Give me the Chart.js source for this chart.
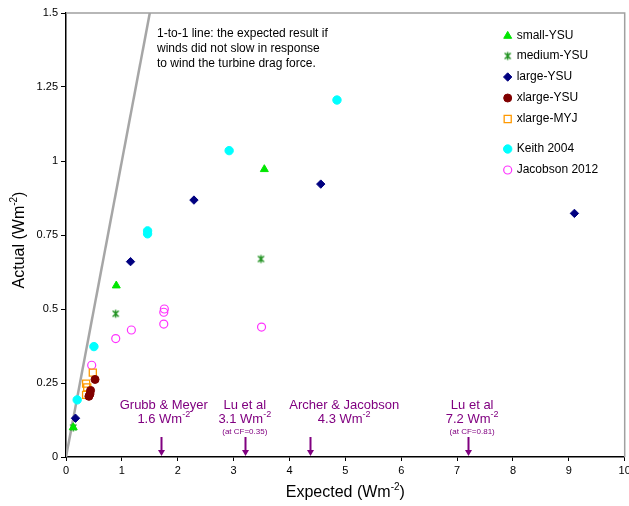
<!DOCTYPE html>
<html><head><meta charset="utf-8">
<script src="https://cdn.jsdelivr.net/npm/chart.js@4"></script>
<style>html,body{margin:0;padding:0;background:#fff;overflow:hidden}#wrap{width:629px;height:506px;position:relative;overflow:hidden}</style>
</head><body><div id="wrap"><canvas id="c" width="631" height="506"></canvas></div>
<script>
// ---- data ----
const smallYSU     = [[0.13,0.100],[0.90,0.579],[3.55,0.972]];
const mediumYSU    = [[0.13,0.100],[0.89,0.484],[3.49,0.669]];
const largeYSU     = [[0.17,0.131],[1.155,0.660],[2.29,0.868],[4.56,0.922],[9.10,0.823]];
const xlargeYSU    = [[0.52,0.262],[0.44,0.225],[0.43,0.213],[0.41,0.205]];
const xlargeMYJ    = [[0.48,0.285],[0.36,0.248],[0.38,0.235],[0.36,0.210]];
const keith2004    = [[0.20,0.193],[0.50,0.373],[1.46,0.764],[1.46,0.754],[2.92,1.035],[4.85,1.206]];
const jacobson2012 = [[0.46,0.310],[0.89,0.400],[1.17,0.429],[1.75,0.449],[1.75,0.489],[1.76,0.500],[3.50,0.439]];
const oneToOne     = [[0,0],[1.5,1.5]];
const seriesNames  = ['small-YSU','medium-YSU','large-YSU','xlarge-YSU','xlarge-MYJ','Keith 2004','Jacobson 2012'];
const xTickValues  = [0,1,2,3,4,5,6,7,8,9,10];
const yTickLabels  = ['0','0.25','0.5','0.75','1','1.25','1.5'];
const estimateNames  = ['Grubb & Meyer','Lu et al','Archer & Jacobson','Lu et al'];
const estimateValues = ['1.6','3.1','4.3','7.2'];
const estimateNotes  = ['','(at CF=0.35)','','(at CF=0.81)'];
const estimateArrowX = [1.70, 3.21, 4.36, 7.20];
const estimateLabelX = [1.75, 3.20, 4.98, 7.27];
const oneToOneNote = ['1-to-1 line: the expected result if','winds did not slow in response','to wind the turbine drag force.'];

const FONT = "'Liberation Sans', Arial, sans-serif";
const PURPLE = '#800080';

// asterisk marker (x with vertical bar)
function makeStar(color){
  const c = document.createElement('canvas'); c.width = 11; c.height = 11;
  const g = c.getContext('2d'); g.strokeStyle = color; g.lineWidth = 1.4;
  g.beginPath();
  g.moveTo(2.5,2.5); g.lineTo(8.5,8.5); g.moveTo(8.5,2.5); g.lineTo(2.5,8.5); g.moveTo(5.5,1.5); g.lineTo(5.5,9.5);
  g.stroke(); return c;
}
const starImg = makeStar('#1b8f1b');

const styles = [
  {pointStyle:'triangle', radius:4.6, bg:'#00e600', border:'#00e600', bw:1},
  {pointStyle:starImg,    radius:5,   bg:'#1b8f1b', border:'#1b8f1b', bw:1},
  {pointStyle:'rectRot',  radius:4.2, bg:'#000080', border:'#000080', bw:1},
  {pointStyle:'circle',   radius:4,   bg:'#800000', border:'#800000', bw:1},
  {pointStyle:'rect',     radius:5,   bg:'rgba(0,0,0,0)', border:'#ff9900', bw:1.3},
  {pointStyle:'circle',   radius:4.2, bg:'#00ffff', border:'#00ffff', bw:1},
  {pointStyle:'circle',   radius:4,   bg:'rgba(0,0,0,0)', border:'#ff33ff', bw:1.2}
];
const seriesData = [smallYSU, mediumYSU, largeYSU, xlargeYSU, xlargeMYJ, keith2004, jacobson2012];

const datasets = seriesData.map((arr,i)=>({
  label: seriesNames[i],
  data: arr.map(p=>({x:p[0],y:p[1]})),
  pointStyle: styles[i].pointStyle,
  pointRadius: styles[i].radius,
  pointBackgroundColor: styles[i].bg,
  pointBorderColor: styles[i].border,
  pointBorderWidth: styles[i].bw,
  backgroundColor: styles[i].bg,
  borderColor: styles[i].border,
  showLine: false,
  order: 1
}));
datasets.push({
  label: '1-to-1',
  data: oneToOne.map(p=>({x:p[0],y:p[1]})),
  showLine: true, pointRadius: 0, borderColor: '#a6a6a6', borderWidth: 2.5, order: 10
});

function drawSup(ctx, base, sup, tail, x, y, size, supSize, align){
  ctx.font = size + 'px ' + FONT;
  const wb = ctx.measureText(base).width;
  const wt = ctx.measureText(tail).width;
  ctx.font = supSize + 'px ' + FONT;
  const ws = ctx.measureText(sup).width;
  const total = wb + ws + wt;
  let sx = align === 'center' ? x - total/2 : x;
  ctx.textAlign = 'left'; ctx.textBaseline = 'middle';
  ctx.font = size + 'px ' + FONT; ctx.fillText(base, sx, y);
  ctx.font = supSize + 'px ' + FONT; ctx.fillText(sup, sx + wb, y - size*0.35);
  ctx.font = size + 'px ' + FONT; ctx.fillText(tail, sx + wb + ws, y);
}

const overlay = {
  id: 'overlay',
  afterDraw(chart){
    const ctx = chart.ctx, a = chart.chartArea, xs = chart.scales.x, ys = chart.scales.y;
    ctx.save();
    // gray top/right frame
    ctx.strokeStyle = '#a0a0a0'; ctx.lineWidth = 1.5;
    ctx.beginPath(); ctx.moveTo(a.left, a.top); ctx.lineTo(a.right, a.top); ctx.lineTo(a.right, a.bottom); ctx.stroke();

    // axis titles
    ctx.fillStyle = '#000';
    drawSup(ctx, 'Expected (Wm', '-2', ')', (a.left + a.right)/2, 493, 16, 10, 'center');
    ctx.save(); ctx.translate(20, (a.top + a.bottom)/2 + 5); ctx.rotate(-Math.PI/2);
    drawSup(ctx, 'Actual (Wm', '-2', ')', 0, 0, 16, 10, 'center');
    ctx.restore();

    // 1-to-1 note
    ctx.fillStyle = '#000'; ctx.font = '12px ' + FONT; ctx.textAlign = 'left'; ctx.textBaseline = 'middle';
    oneToOneNote.forEach((t,i)=>ctx.fillText(t, a.left + 91, a.top + 21 + i*15));

    // estimates: arrows and labels
    const base = ys.getPixelForValue(0);
    ctx.fillStyle = PURPLE; ctx.strokeStyle = PURPLE;
    estimateArrowX.forEach((v,i)=>{
      const px = Math.round(xs.getPixelForValue(v)) + 0.5;
      ctx.lineWidth = 2;
      ctx.beginPath(); ctx.moveTo(px, base - 20); ctx.lineTo(px, base - 6); ctx.stroke();
      ctx.beginPath(); ctx.moveTo(px - 3.5, base - 7); ctx.lineTo(px + 3.5, base - 7); ctx.lineTo(px, base - 1); ctx.closePath(); ctx.fill();
      const lx = xs.getPixelForValue(estimateLabelX[i]);
      ctx.font = '13px ' + FONT; ctx.textAlign = 'center'; ctx.textBaseline = 'middle';
      ctx.fillText(estimateNames[i], lx, base - 52);
      drawSup(ctx, estimateValues[i] + ' Wm', '-2', '', lx, base - 38, 13, 9, 'center');
      if (estimateNotes[i]) {
        ctx.font = '8px ' + FONT; ctx.textAlign = 'center';
        ctx.fillText(estimateNotes[i], lx, base - 25);
      }
    });

    // legend
    const lgX = a.right - 117, lgY = [a.top + 23, a.top + 43, a.top + 64, a.top + 85, a.top + 106, a.top + 136, a.top + 157];
    seriesNames.forEach((name,i)=>{
      const s = styles[i];
      ctx.fillStyle = s.bg; ctx.strokeStyle = s.border; ctx.lineWidth = s.bw;
      Chart.helpers.drawPoint(ctx, {pointStyle: s.pointStyle, radius: s.radius, rotation: 0, borderWidth: s.bw}, lgX, lgY[i]);
      ctx.fillStyle = '#000'; ctx.font = '12px ' + FONT; ctx.textAlign = 'left'; ctx.textBaseline = 'middle';
      ctx.fillText(name, lgX + 9, lgY[i]);
    });
    ctx.restore();
  }
};

new Chart(document.getElementById('c'), {
  type: 'scatter',
  data: { datasets },
  options: {
    responsive: false, animation: false, devicePixelRatio: 1,
    layout: { padding: { top: 13, right: 0, bottom: 0, left: 0 } },
    plugins: { legend: { display: false }, tooltip: { enabled: false } },
    scales: {
      x: {
        type: 'linear', min: 0, max: 10,
        afterBuildTicks(s){ s.ticks = xTickValues.map(v=>({value:v})); },
        ticks: { color: '#000', font: { size: 11, family: FONT }, padding: 3, maxRotation: 0, autoSkip: false },
        grid: { drawOnChartArea: false, drawTicks: true, tickLength: 4, tickColor: '#000' },
        border: { color: '#000', width: 1.5 },
        afterFit(s){ s.height = 49; s.paddingLeft = 0; s.paddingRight = 0; }
      },
      y: {
        type: 'linear', min: 0, max: 1.5,
        afterBuildTicks(s){ s.ticks = yTickLabels.map(t=>({value: parseFloat(t)})); },
        ticks: { color: '#000', font: { size: 11, family: FONT }, padding: 3, autoSkip: false,
                 callback: (v, i) => yTickLabels[i] },
        grid: { drawOnChartArea: false, drawTicks: true, tickLength: 5, tickColor: '#000' },
        border: { color: '#000', width: 1.5 },
        afterFit(s){ s.width = 66; s.paddingTop = 0; s.paddingBottom = 0; }
      }
    }
  },
  plugins: [overlay]
});
</script>
</body></html>
